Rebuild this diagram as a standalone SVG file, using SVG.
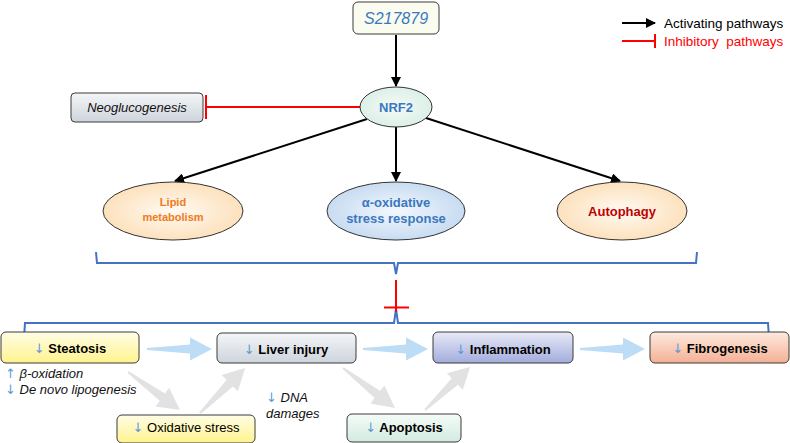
<svg xmlns="http://www.w3.org/2000/svg" width="790" height="443" viewBox="0 0 790 443">
<style>
text{font-family:"Liberation Sans",Arial,"DejaVu Sans",sans-serif;}
.box{stroke:#3a3a3a;stroke-width:1;}
.ell{stroke:#333;stroke-width:1;}
.b{font-weight:bold;}
.it{font-style:italic;}
.bl{fill:#5b9bd5;font-family:"DejaVu Sans",sans-serif;font-weight:normal;}
.conn{stroke:#000;stroke-width:2;fill:none;}
.inh{stroke:#ff0000;stroke-width:2;fill:none;}
.brace{stroke:#4472c4;stroke-width:2;fill:none;}
</style>
<defs>
<marker id="ah" viewBox="0 0 10 10" refX="9" refY="5" markerWidth="5" markerHeight="5" orient="auto" markerUnits="strokeWidth">
<path d="M0,0 L10,5 L0,10 z" fill="#000"/>
</marker>
<linearGradient id="gGray" x1="0" y1="0" x2="0" y2="1"><stop offset="0" stop-color="#f4f6f8"/><stop offset="1" stop-color="#cdd4db"/></linearGradient>
<linearGradient id="gYel" x1="0" y1="0" x2="0" y2="1"><stop offset="0" stop-color="#fffde6"/><stop offset="1" stop-color="#fff38e"/></linearGradient>
<linearGradient id="gBlu" x1="0" y1="0" x2="0" y2="1"><stop offset="0" stop-color="#e8eaf7"/><stop offset="1" stop-color="#a2acdc"/></linearGradient>
<linearGradient id="gSal" x1="0" y1="0" x2="0" y2="1"><stop offset="0" stop-color="#fdeade"/><stop offset="1" stop-color="#f4b095"/></linearGradient>
<linearGradient id="gMint" x1="0" y1="0" x2="0" y2="1"><stop offset="0" stop-color="#f5fbf8"/><stop offset="1" stop-color="#d2ebe0"/></linearGradient>
<radialGradient id="gPeach" cx="0.5" cy="0.5" r="0.6"><stop offset="0" stop-color="#fffaf3"/><stop offset="1" stop-color="#fcdcb2"/></radialGradient>
<radialGradient id="gSky" cx="0.5" cy="0.5" r="0.6"><stop offset="0" stop-color="#f3f8fd"/><stop offset="1" stop-color="#bfd6ef"/></radialGradient>
<radialGradient id="gNrf" cx="0.5" cy="0.5" r="0.6"><stop offset="0" stop-color="#f6fbf8"/><stop offset="1" stop-color="#d6ede4"/></radialGradient>
<path id="fat" d="M0,-1 L43,-4.5 L43,-11.5 L65,0 L43,11.5 L43,4.5 L0,1 Z"/>
</defs>

<!-- connectors -->
<g id="connectors">
<line class="conn" x1="396" y1="35" x2="396" y2="86" marker-end="url(#ah)"/>
<line class="conn" x1="396" y1="127" x2="396" y2="181" marker-end="url(#ah)"/>
<line class="conn" x1="367" y1="119" x2="175" y2="181" marker-end="url(#ah)"/>
<line class="conn" x1="426" y1="118" x2="620" y2="181" marker-end="url(#ah)"/>
<line class="inh" x1="360" y1="107" x2="206" y2="107"/>
<line class="inh" x1="206" y1="95" x2="206" y2="119"/>
<!-- braces -->
<path class="brace" d="M96,252 L97,263 L394,263 L396,274 L398,263 L696,263 L697,252"/>
<path class="brace" d="M24,338 L25,323 L394,323 L396,309 L398,323 L768,323 L769,338"/>
<line class="inh" x1="396" y1="280" x2="396" y2="312"/>
<line class="inh" x1="384" y1="307.5" x2="409" y2="307.5"/>
<!-- blue fat arrows -->
<use href="#fat" fill="#bddcf6" transform="translate(147,349)"/>
<use href="#fat" fill="#bddcf6" transform="translate(363,349)"/>
<use href="#fat" fill="#bddcf6" transform="translate(580,349)"/>
<!-- gray fat arrows -->
<use href="#fat" fill="#e2e2e2" transform="translate(128,372) rotate(36.2) scale(0.99,1)"/>
<use href="#fat" fill="#e2e2e2" transform="translate(200,413) rotate(-45) scale(0.98,1)"/>
<use href="#fat" fill="#e2e2e2" transform="translate(343,368) rotate(37.6) scale(1.01,1)"/>
<use href="#fat" fill="#e2e2e2" transform="translate(425,410) rotate(-43.7) scale(0.96,1)"/>
<!-- legend -->
<line class="conn" x1="622" y1="23" x2="655" y2="23" marker-end="url(#ah)"/>
<line class="inh" x1="622" y1="41" x2="655" y2="41"/>
<line class="inh" x1="655" y1="34" x2="655" y2="48"/>
</g>

<g id="legend">
<text x="664" y="28" font-size="13.5" fill="#000">Activating pathways</text>
<text x="664" y="46" font-size="13.5" fill="#ff0000" xml:space="preserve">Inhibitory  pathways</text>
</g>

<g id="s217879">
<rect class="box" x="353" y="2" width="86" height="32" rx="5" fill="#fafcef"/>
<text x="396" y="24" font-size="16" text-anchor="middle" class="it" fill="#3a78c0">S217879</text>
</g>

<g id="nrf2">
<ellipse class="ell" cx="396" cy="107" rx="36" ry="20" fill="url(#gNrf)"/>
<text x="396" y="112" font-size="13" text-anchor="middle" class="b" fill="#3a78c0">NRF2</text>
</g>

<g id="neoglucogenesis">
<rect class="box" x="71" y="93" width="132" height="29" rx="4" fill="url(#gGray)"/>
<text x="137" y="112" font-size="13" text-anchor="middle" class="it" fill="#111">Neoglucogenesis</text>
</g>

<g id="lipid">
<ellipse class="ell" cx="173" cy="211" rx="70" ry="29" fill="url(#gPeach)"/>
<text x="173" y="206" font-size="11" text-anchor="middle" class="b" fill="#f07b22">Lipid</text>
<text x="173" y="221" font-size="11" text-anchor="middle" class="b" fill="#f07b22">metabolism</text>
</g>

<g id="oxidative-response">
<ellipse class="ell" cx="396" cy="211" rx="69" ry="29" fill="url(#gSky)"/>
<text x="396" y="207" font-size="13" text-anchor="middle" class="b" fill="#3a78c0">α-oxidative</text>
<text x="396" y="223" font-size="13" text-anchor="middle" class="b" fill="#3a78c0">stress response</text>
</g>

<g id="autophagy">
<ellipse class="ell" cx="622" cy="211" rx="65" ry="29" fill="url(#gPeach)"/>
<text x="622" y="216" font-size="13" text-anchor="middle" class="b" fill="#c00000">Autophagy</text>
</g>

<g id="steatosis">
<rect class="box" x="1" y="332" width="138" height="31" rx="5" fill="url(#gYel)"/>
<text x="70" y="353" font-size="13" text-anchor="middle" class="b" fill="#000"><tspan class="bl">↓</tspan> Steatosis</text>
</g>

<g id="steatosis-notes">
<text x="5" y="378" font-size="13" class="it" fill="#111"><tspan class="bl" font-style="normal">↑</tspan> β-oxidation</text>
<text x="5" y="394" font-size="13" class="it" fill="#111"><tspan class="bl" font-style="normal">↓</tspan> De novo lipogenesis</text>
</g>

<g id="liver-injury">
<rect class="box" x="217" y="333" width="139" height="30" rx="5" fill="url(#gGray)"/>
<text x="286" y="354" font-size="13" text-anchor="middle" class="b" fill="#000"><tspan class="bl">↓</tspan> Liver injury</text>
</g>

<g id="inflammation">
<rect class="box" x="433" y="332" width="140" height="31" rx="5" fill="url(#gBlu)"/>
<text x="503" y="354" font-size="13" text-anchor="middle" class="b" fill="#000"><tspan class="bl">↓</tspan> Inflammation</text>
</g>

<g id="fibrogenesis">
<rect class="box" x="650" y="332" width="139" height="31" rx="5" fill="url(#gSal)"/>
<text x="720" y="353" font-size="13" text-anchor="middle" class="b" fill="#000"><tspan class="bl">↓</tspan> Fibrogenesis</text>
</g>

<g id="oxidative-stress">
<rect class="box" x="117" y="415" width="138" height="28" rx="5" fill="url(#gYel)"/>
<text x="186" y="432" font-size="13" text-anchor="middle" fill="#000"><tspan class="bl">↓</tspan> Oxidative stress</text>
</g>

<g id="dna-damages">
<text x="266" y="402" font-size="13" class="it" fill="#111"><tspan class="bl" font-style="normal">↓</tspan> DNA</text>
<text x="266" y="418" font-size="13" class="it" fill="#111">damages</text>
</g>

<g id="apoptosis">
<rect class="box" x="347" y="414" width="114" height="28" rx="5" fill="url(#gMint)"/>
<text x="404" y="432" font-size="13" text-anchor="middle" class="b" fill="#000"><tspan class="bl">↓</tspan> Apoptosis</text>
</g>
</svg>
